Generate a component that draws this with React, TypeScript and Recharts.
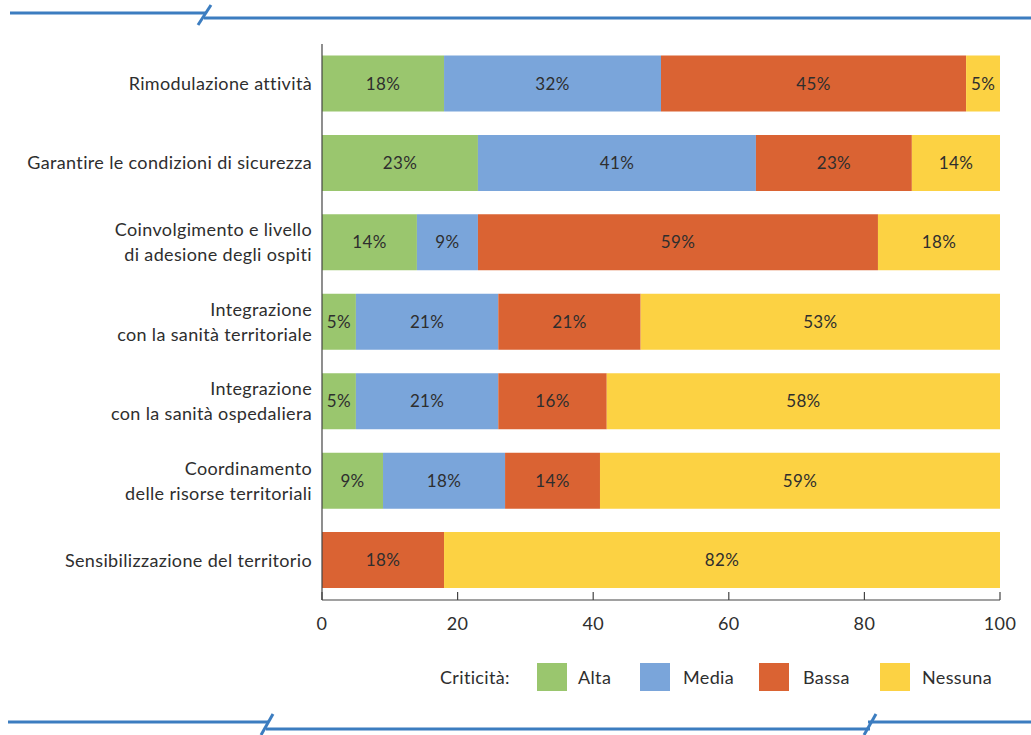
import React from 'react';
import { BarChart, Bar, XAxis, YAxis, LabelList } from 'recharts';

const categories = [
  'Rimodulazione attività',
  'Garantire le condizioni di sicurezza',
  'Coinvolgimento e livello\ndi adesione degli ospiti',
  'Integrazione\ncon la sanità territoriale',
  'Integrazione\ncon la sanità ospedaliera',
  'Coordinamento\ndelle risorse territoriali',
  'Sensibilizzazione del territorio',
];
const alta = [18, 23, 14, 5, 5, 9, 0];
const media = [32, 41, 9, 21, 21, 18, 0];
const bassa = [45, 23, 59, 21, 16, 14, 18];
const nessuna = [5, 14, 18, 53, 58, 59, 82];
const xTicks = [0, 20, 40, 60, 80, 100];

const seriesNames = ['Alta', 'Media', 'Bassa', 'Nessuna'];
const seriesKeys = ['alta', 'media', 'bassa', 'nessuna'];
const colors = ['#9AC66E', '#7AA5DA', '#DA6333', '#FCD243'];

const data = categories.map((c, i) => ({
  name: c,
  alta: alta[i],
  media: media[i],
  bassa: bassa[i],
  nessuna: nessuna[i],
}));

const FONT = 'Lato, "Open Sans", sans-serif';
const TEXT = '#2e2e2e';
const LS = 0.35;

const YTick = (props: any) => {
  const { x, y, payload } = props;
  const lines = String(payload.value).split('\n');
  const lh = 25;
  const start = -((lines.length - 1) * lh) / 2;
  return (
    <text x={x} y={y} textAnchor="end" fill={TEXT} fontSize={18} fontFamily={FONT} letterSpacing={LS}>
      {lines.map((l, i) => (
        <tspan key={i} x={x} y={y + start + i * lh} dy="0.35em">
          {l}
        </tspan>
      ))}
    </text>
  );
};

const fmt = (v: any) => (v ? `${v}%` : '');

const legendPos = [
  { sw: 537, tx: 578 },
  { sw: 640, tx: 683 },
  { sw: 759, tx: 803 },
  { sw: 880, tx: 922 },
];

export default function App() {
  return (
    <div style={{ position: 'absolute', left: 0, top: 0, width: 1031, height: 735, background: '#fff', fontFamily: FONT }}>
      <svg width={1031} height={735} style={{ position: 'absolute', left: 0, top: 0 }}>
        <g stroke="#3C7DC0" strokeWidth={3} fill="none">
          <line x1={10} y1={13} x2={206} y2={13} />
          <line x1={204} y1={18} x2={1031} y2={18} />
          <line x1={198} y1={25} x2={211} y2={5} />
          <line x1={8} y1={722} x2={268} y2={722} />
          <line x1={266} y1={729} x2={870} y2={729} />
          <line x1={868} y1={722} x2={1031} y2={722} />
          <line x1={261} y1={735} x2={273} y2={714} />
          <line x1={864} y1={735} x2={876} y2={714} />
        </g>
      </svg>
      <div style={{ position: 'absolute', left: 0, top: 0 }}>
        <BarChart
          width={1031}
          height={735}
          data={data}
          layout="vertical"
          margin={{ top: 44, right: 31, bottom: 95, left: 0 }}
          barCategoryGap="14.5%"
        >
          <XAxis
            type="number"
            domain={[0, 100]}
            allowDataOverflow
            ticks={xTicks}
            height={40}
            tickSize={-8}
            tickMargin={25}
            axisLine={{ stroke: '#444', strokeWidth: 1.2 }}
            tickLine={{ stroke: '#444', strokeWidth: 1.2 }}
            tick={{ fill: TEXT, fontSize: 18, fontFamily: FONT, letterSpacing: LS }}
          />
          <YAxis
            type="category"
            dataKey="name"
            width={322}
            tickLine={false}
            tickSize={0}
            tickMargin={10}
            axisLine={{ stroke: '#444', strokeWidth: 1.2 }}
            tick={<YTick />}
            interval={0}
          />
          {seriesKeys.map((k, i) => (
            <Bar key={k} dataKey={k} name={seriesNames[i]} stackId="a" fill={colors[i]} isAnimationActive={false}>
              <LabelList
                dataKey={k}
                position="center"
                formatter={fmt}
                fill={TEXT}
                fontSize={17}
                fontFamily={FONT}
                letterSpacing={LS}
              />
            </Bar>
          ))}
        </BarChart>
      </div>
      <div style={{ position: 'absolute', left: 0, top: 662, width: 1031, height: 30, fontSize: 18, color: TEXT, fontFamily: FONT, letterSpacing: LS }}>
        <span style={{ position: 'absolute', left: 440, top: 0, lineHeight: '30px' }}>Criticità:</span>
        {seriesNames.map((n, i) => (
          <React.Fragment key={n}>
            <span
              style={{
                position: 'absolute',
                left: legendPos[i].sw,
                top: 1,
                width: 30,
                height: 28,
                background: colors[i],
              }}
            />
            <span style={{ position: 'absolute', left: legendPos[i].tx, top: 0, lineHeight: '30px' }}>{n}</span>
          </React.Fragment>
        ))}
      </div>
    </div>
  );
}
